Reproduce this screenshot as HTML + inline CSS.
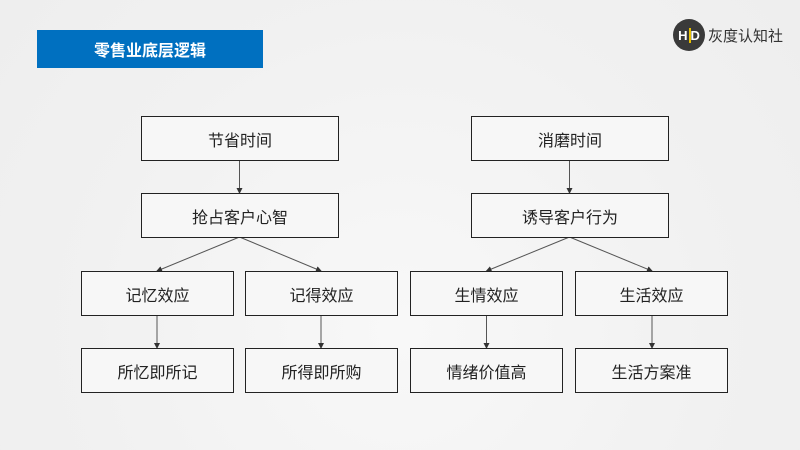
<!DOCTYPE html>
<html><head><meta charset="utf-8"><style>
body{margin:0;width:800px;height:450px;overflow:hidden;background:radial-gradient(circle at 400px 330px,#f8f8f8 0,#f1f1f1 60%,#eeeeee 100%);font-family:"Liberation Sans","Noto Sans CJK SC",sans-serif;position:relative}
.b{position:absolute;box-sizing:border-box;border:1.3px solid #222;background:#f7f7f7;display:flex;align-items:center;justify-content:center;font-size:16px;color:#222;height:45px}
</style></head><body>
<div style="position:absolute;left:37px;top:30px;width:226px;height:38px;background:#0070C0;color:#fff;font-weight:bold;font-size:16px;display:flex;align-items:center;justify-content:center">零售业底层逻辑</div>
<div style="position:absolute;left:673px;top:19px;width:32px;height:32px;border-radius:50%;background:#3a3a3a;color:#fff;font-size:13px;font-weight:bold;display:flex;align-items:center;justify-content:center"><span style="border-right:2px solid #e8c000;padding-right:1px">H</span>D</div>
<div style="position:absolute;left:708px;top:25px;font-size:15px;color:#333">灰度认知社</div>
<svg width="800" height="450" style="position:absolute;left:0;top:0">
<defs><marker id="a" markerWidth="6" markerHeight="6" refX="5" refY="3" orient="auto"><path d="M0,0L6,3L0,6z" fill="#333"/></marker></defs>
<g stroke="#555" stroke-width="1" marker-end="url(#a)">
<line x1="239.5" y1="160" x2="239.5" y2="193"/>
<line x1="239.5" y1="237" x2="157" y2="271"/>
<line x1="239.5" y1="237" x2="321" y2="271"/>
<line x1="157" y1="315" x2="157" y2="348"/>
<line x1="321" y1="315" x2="321" y2="348"/>
<line x1="569.5" y1="160" x2="569.5" y2="193"/>
<line x1="569.5" y1="237" x2="486.5" y2="271"/>
<line x1="569.5" y1="237" x2="652" y2="271"/>
<line x1="486.5" y1="315" x2="486.5" y2="348"/>
<line x1="652" y1="315" x2="652" y2="348"/>
</g></svg>
<div class="b" style="left:141px;top:116px;width:198px">节省时间</div>
<div class="b" style="left:141px;top:193px;width:198px">抢占客户心智</div>
<div class="b" style="left:81px;top:271px;width:153px">记忆效应</div>
<div class="b" style="left:245px;top:271px;width:153px">记得效应</div>
<div class="b" style="left:81px;top:348px;width:153px">所忆即所记</div>
<div class="b" style="left:245px;top:348px;width:153px">所得即所购</div>
<div class="b" style="left:471px;top:116px;width:198px">消磨时间</div>
<div class="b" style="left:471px;top:193px;width:198px">诱导客户行为</div>
<div class="b" style="left:410px;top:271px;width:153px">生情效应</div>
<div class="b" style="left:575px;top:271px;width:153px">生活效应</div>
<div class="b" style="left:410px;top:348px;width:153px">情绪价值高</div>
<div class="b" style="left:575px;top:348px;width:153px">生活方案准</div>
</body></html>
